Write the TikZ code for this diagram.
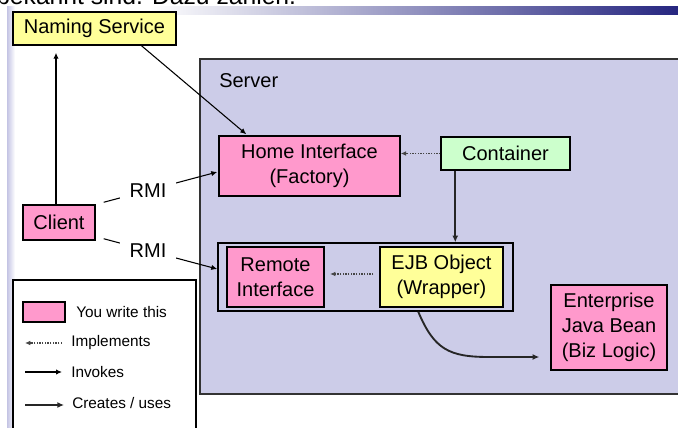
\documentclass[tikz,border=0pt]{standalone}
\usepackage{fontspec}
\setmainfont{Liberation Sans}
\usetikzlibrary{arrows.meta,calc}
\definecolor{srvfill}{RGB}{204,204,232}
\definecolor{pinkbox}{RGB}{255,153,204}
\definecolor{yellowbox}{RGB}{255,255,153}
\definecolor{greenbox}{RGB}{204,255,204}
\definecolor{slidenavy}{RGB}{38,38,128}
\definecolor{slidemid}{RGB}{180,180,210}
\definecolor{stripblue}{RGB}{196,196,228}
\definecolor{dotgrey}{RGB}{70,70,70}

\begin{document}
\begin{tikzpicture}[x=0.75pt,y=-0.75pt,
  pxsize/.style 2 args={minimum width=#1*0.75pt, minimum height=#2*0.75pt},
  boxtext/.style={font=\fontsize{15}{18.75}\selectfont},
  box/.style={draw=black, line width=1.1pt, inner sep=0pt, align=center, boxtext},
  pinkfill/.style={box, fill=pinkbox},
  yellowfill/.style={box, fill=yellowbox},
  greenfill/.style={box, fill=greenbox},
  invoke/.style={draw=black, line width=0.8pt, -{Latex[length=4.5pt,width=4pt]}},
  creates/.style={draw=black!85, line width=1.4pt, -{Latex[length=5pt,width=4.5pt]}},
  impl/.style={draw=dotgrey, line width=1pt, densely dotted, -{Latex[length=4pt,width=3.5pt]}},
  rmi/.style={fill=white, inner xsep=7pt, inner ysep=1pt, boxtext},
  legendtext/.style={anchor=west, inner sep=0pt, font=\fontsize{11.5}{14}\selectfont}
]
\useasboundingbox (0,0) rectangle (678,428);
\clip (0,0) rectangle (678,428);
\fill[white] (0,0) rectangle (678,428);

% slide decoration: heading line, title bar and left edge strip
\node[anchor=base west, inner sep=0pt, font=\fontsize{18.5}{22}\selectfont] (heading) at (-4,5) {bekannt sind. Dazu zählen.};
\shade[left color=white, middle color=slidemid, right color=slidenavy] (150,7) rectangle (678,15);
\shade[left color=stripblue, right color=white] (7,7) rectangle (15,428);

% server area
\node[draw=black!80, line width=1.2pt, fill=srvfill, pxsize={520}{335}] (server) at (460,226.5) {};
\node[anchor=west, inner sep=0pt, boxtext] (serverlbl) at (219,81) {Server};

% outer group around remote interface and EJB object
\node[draw=black, line width=1.1pt, fill=srvfill, pxsize={295}{68}] (outer) at (365.5,277) {};

% boxes
\node[yellowfill, pxsize={163}{33}] (naming) at (94.5,28.5) {Naming Service};
\node[pinkfill, pxsize={181}{60}] (home) at (309.5,166) {Home Interface\\(Factory)};
\node[greenfill, pxsize={129}{33}] (container) at (505.5,153.5) {Container};
\node[pinkfill, pxsize={97}{60}] (remote) at (275.5,277) {Remote\\Interface};
\node[yellowfill, pxsize={123}{60}] (ejb) at (441.5,277) {EJB Object\\(Wrapper)};
\node[pinkfill, pxsize={116}{85}] (bean) at (609,327.5) {Enterprise\\Java Bean\\(Biz Logic)};
\node[pinkfill, pxsize={72}{35}] (client) at (59,222.5) {Client};

% connectors
\draw[invoke] ($(client.north)+(-3,0)$) -- ($(naming.south)+(-38.5,7)$);
\draw[invoke] ($(naming.south)+(47,0)$) -- ($(home.north west)+(28,-1)$);
\draw[invoke] ($(client.north east)+(8,-2)$) -- node[rmi, pos=0.39] (rmitop) {RMI} ($(home.west)+(-1,6)$);
\draw[invoke] ($(client.south east)+(8,-2)$) -- node[rmi, pos=0.39] (rmibot) {RMI} ($(outer.west)+(0,-8)$);
\draw[impl] (container.west) -- (container.west -| home.east);
\draw[creates] ($(container.south west)+(15,0)$) coordinate (cdown) -- (cdown |- outer.north);
\draw[impl, shorten >=4pt] ($(ejb.west)+(-6,-3)$) coordinate (ejbout) -- (ejbout -| remote.east);
\coordinate (curvestart) at ($(ejb.south west)+(39,4)$);
\coordinate (curvemid) at ($(bean.west)+(-61,29.5)$);
\coordinate (curveend) at ($(bean.west)+(-11,29.5)$);
\draw[creates] (curvestart) .. controls ($(curvestart)+(16,38)$) and ($(curvemid)+(-40,0)$) .. (curvemid) -- (curveend);

% legend
\node[draw=black, line width=1.1pt, fill=white, pxsize={183}{160}] (legend) at (104.5,360) {};
\node[draw=black, line width=1.1pt, fill=pinkbox, pxsize={42}{20}] (lgpink) at (44,312) {};
\node[legendtext] (lgwrite) at (76,312) {You write this};
\coordinate (implA) at (62,343);
\coordinate (implB) at (25,343);
\draw[impl, line width=0.8pt] (implA) -- (implB);
\node[legendtext] (lgimpl) at (71,343) {Implements};
\coordinate (invA) at (25,372);
\coordinate (invB) at (62,372);
\draw[invoke] (invA) -- (invB);
\node[legendtext] (lginv) at (71,372) {Invokes};
\coordinate (crA) at (25,405);
\coordinate (crB) at (64,405);
\draw[creates] (crA) -- (crB);
\node[legendtext] (lgcr) at (72,403) {Creates / uses};
\end{tikzpicture}
\end{document}
